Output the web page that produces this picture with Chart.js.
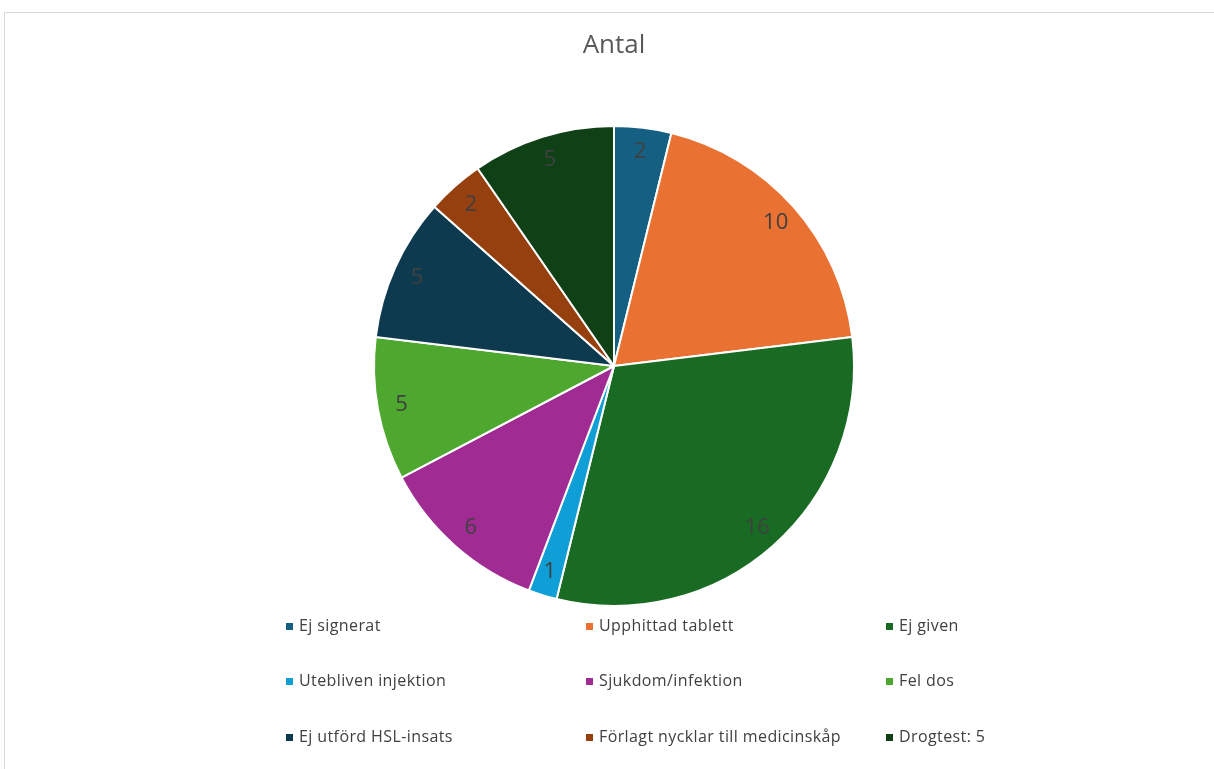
<!DOCTYPE html>
<html>
<head>
<meta charset="utf-8">
<script src="https://cdn.jsdelivr.net/npm/chart.js@4.4.1/dist/chart.umd.min.js"></script>
<style>
  body { margin:0; background:#fff; overflow:hidden; }
  #box { position:absolute; left:4px; top:12px; width:1214px; height:760px; border:1px solid #d9d9d9; box-sizing:border-box; }
  #myPie { display:block; }
</style>
</head>
<body>
<div id="box"><canvas id="myPie" width="1214" height="760"></canvas></div>
<script>
// data
var labels = ['Ej signerat','Upphittad tablett','Ej given','Utebliven injektion','Sjukdom/infektion','Fel dos','Ej utförd HSL-insats','Förlagt nycklar till medicinskåp','Drogtest: 5'];
var values = [2, 10, 16, 1, 6, 5, 5, 2, 5];
var colors = ['#156082','#E97132','#196B24','#0F9ED5','#A02B93','#4EA72E','#0D3A4F','#97400F','#0F4016'];

var legendFont = "16px 'Open Sans', 'Noto Sans', sans-serif";

// title drawn at top
var titlePlugin = {
    id:'titleText',
    afterDraw:function(chart){
        var ctx = chart.ctx;
        ctx.save();
        ctx.font = "26px 'Open Sans', 'Noto Sans', sans-serif";
        ctx.fillStyle = '#595959';
        ctx.textAlign = 'center';
        ctx.textBaseline = 'middle';
        ctx.fillText('Antal', 609, 33);
        ctx.restore();
    }
};

// value labels inside the slices
var valuePlugin = {
    id:'valueLabels',
    afterDatasetsDraw:function(chart){
        var ctx = chart.ctx;
        var meta = chart.getDatasetMeta(0);
        ctx.save();
        ctx.font = "22px 'Open Sans', 'Noto Sans', sans-serif";
        ctx.fillStyle = '#404040';
        ctx.textAlign = 'center';
        ctx.textBaseline = 'middle';
        meta.data.forEach(function(arc, i){
            var p = arc.getProps(['x','y','startAngle','endAngle','outerRadius']);
            var mid = (p.startAngle + p.endAngle)/2;
            var r = p.outerRadius*0.9;
            ctx.fillText(String(values[i]), p.x + Math.cos(mid)*r, p.y + Math.sin(mid)*r);
        });
        ctx.restore();
    }
};

// legend in a 3x3 grid below the pie
var legendPlugin = {
    id:'gridLegend',
    afterDraw:function(chart){
        var ctx = chart.ctx;
        var colX = [281, 581, 881];
        var rowY = [613, 668, 724];
        ctx.save();
        ctx.font = legendFont;
        ctx.letterSpacing = '0.4px';
        ctx.textBaseline = 'middle';
        chart.data.labels.forEach(function(lab, i){
            var x = colX[i%3], y = rowY[Math.floor(i/3)];
            ctx.fillStyle = chart.data.datasets[0].backgroundColor[i];
            ctx.fillRect(x, y-3, 7, 7);
            ctx.fillStyle = '#404040';
            ctx.fillText(lab, x+13, y);
        });
        ctx.restore();
    }
};

var myPie = document.getElementById('myPie').getContext('2d');
var pieChart = new Chart(myPie, {
    type:'pie',
    data:{
        labels:labels,
        datasets:[{
            data:values,
            backgroundColor:colors,
            borderColor:'#ffffff',
            borderWidth:2
        }]
    },
    options:{
        responsive:false,
        animation:false,
        layout:{
            padding:{ left:368, right:364, top:112, bottom:166 }
        },
        plugins:{
            legend:{ display:false },
            title:{ display:false },
            tooltip:{ enabled:false }
        }
    },
    plugins:[titlePlugin, valuePlugin, legendPlugin]
});
</script>
</body>
</html>
